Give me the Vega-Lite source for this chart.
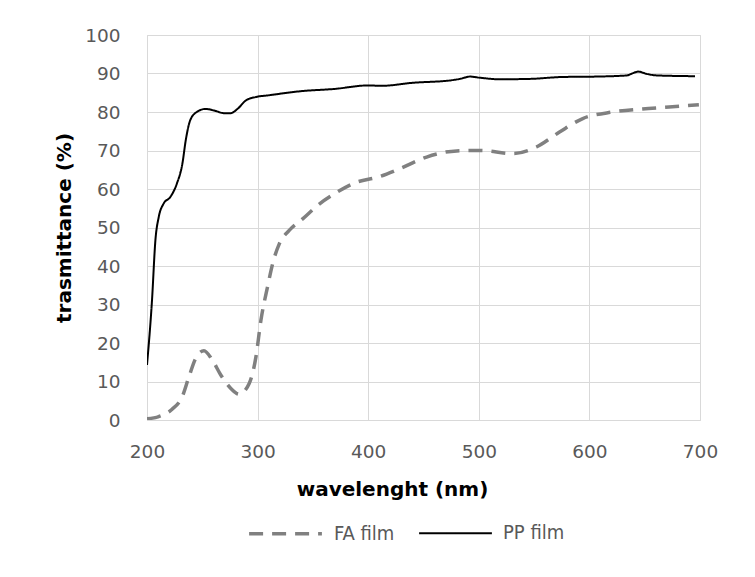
{
  "$schema": "https://vega.github.io/schema/vega-lite/v6.json",
  "width": 553,
  "height": 385,
  "autosize": {"type": "none"},
  "padding": {"left": 147, "top": 35, "right": 55, "bottom": 157},
  "background": "white",
  "config": {
    "view": {"stroke": "#d9d9d9", "strokeWidth": 1},
    "axis": {
      "gridColor": "#d9d9d9",
      "gridWidth": 1,
      "domain": false,
      "ticks": false,
      "labelFlush": false,
      "labelFont": "DejaVu Sans",
      "labelFontSize": 18.5,
      "labelColor": "#595959",
      "titleFont": "DejaVu Sans",
      "titleFontWeight": "bold",
      "titleFontSize": 20,
      "titleColor": "#000000"
    }
  },
  "data": {
    "values": [
      {"series": "PP film", "wl": 200, "t": 14.3},
      {"series": "PP film", "wl": 204.5, "t": 31},
      {"series": "PP film", "wl": 207.6, "t": 46.7},
      {"series": "PP film", "wl": 210.6, "t": 52.7},
      {"series": "PP film", "wl": 215, "t": 56.2},
      {"series": "PP film", "wl": 221, "t": 57.9},
      {"series": "PP film", "wl": 227, "t": 61.4},
      {"series": "PP film", "wl": 232, "t": 66.6},
      {"series": "PP film", "wl": 235, "t": 72.6},
      {"series": "PP film", "wl": 239, "t": 77.8},
      {"series": "PP film", "wl": 245, "t": 80},
      {"series": "PP film", "wl": 253, "t": 80.8},
      {"series": "PP film", "wl": 260.6, "t": 80.4},
      {"series": "PP film", "wl": 269.7, "t": 79.7},
      {"series": "PP film", "wl": 275.8, "t": 79.7},
      {"series": "PP film", "wl": 281.8, "t": 80.8},
      {"series": "PP film", "wl": 289.4, "t": 83},
      {"series": "PP film", "wl": 298.5, "t": 83.9},
      {"series": "PP film", "wl": 309, "t": 84.3},
      {"series": "PP film", "wl": 339, "t": 85.4},
      {"series": "PP film", "wl": 369.7, "t": 86},
      {"series": "PP film", "wl": 400, "t": 86.9},
      {"series": "PP film", "wl": 412, "t": 86.8},
      {"series": "PP film", "wl": 440.8, "t": 87.6},
      {"series": "PP film", "wl": 474, "t": 88.2},
      {"series": "PP film", "wl": 483, "t": 88.6},
      {"series": "PP film", "wl": 492, "t": 89.2},
      {"series": "PP film", "wl": 501, "t": 88.9},
      {"series": "PP film", "wl": 519, "t": 88.5},
      {"series": "PP film", "wl": 546, "t": 88.6},
      {"series": "PP film", "wl": 576, "t": 89.1},
      {"series": "PP film", "wl": 606.6, "t": 89.2},
      {"series": "PP film", "wl": 633.7, "t": 89.5},
      {"series": "PP film", "wl": 639.5, "t": 90.1},
      {"series": "PP film", "wl": 644, "t": 90.5},
      {"series": "PP film", "wl": 651.8, "t": 89.9},
      {"series": "PP film", "wl": 660.8, "t": 89.5},
      {"series": "PP film", "wl": 695.5, "t": 89.3},
      {"series": "FA film", "wl": 200, "t": 0.3},
      {"series": "FA film", "wl": 210.6, "t": 0.9},
      {"series": "FA film", "wl": 222.7, "t": 2.8},
      {"series": "FA film", "wl": 231.8, "t": 6},
      {"series": "FA film", "wl": 237.9, "t": 11.2},
      {"series": "FA film", "wl": 244, "t": 16},
      {"series": "FA film", "wl": 251.5, "t": 18},
      {"series": "FA film", "wl": 259, "t": 15.6},
      {"series": "FA film", "wl": 266.7, "t": 11.7},
      {"series": "FA film", "wl": 275.8, "t": 8.2},
      {"series": "FA film", "wl": 283.3, "t": 6.7},
      {"series": "FA film", "wl": 292.4, "t": 9.5},
      {"series": "FA film", "wl": 298.5, "t": 16.4},
      {"series": "FA film", "wl": 303, "t": 25.9},
      {"series": "FA film", "wl": 309, "t": 34.6},
      {"series": "FA film", "wl": 313.6, "t": 40.6},
      {"series": "FA film", "wl": 319.7, "t": 45.8},
      {"series": "FA film", "wl": 328.8, "t": 49.3},
      {"series": "FA film", "wl": 341, "t": 52.3},
      {"series": "FA film", "wl": 354.5, "t": 55.8},
      {"series": "FA film", "wl": 369.7, "t": 58.8},
      {"series": "FA film", "wl": 387.9, "t": 61.6},
      {"series": "FA film", "wl": 410, "t": 63.2},
      {"series": "FA film", "wl": 428.7, "t": 65.3},
      {"series": "FA film", "wl": 452.8, "t": 68.3},
      {"series": "FA film", "wl": 480, "t": 69.9},
      {"series": "FA film", "wl": 501, "t": 70},
      {"series": "FA film", "wl": 531, "t": 69.2},
      {"series": "FA film", "wl": 552, "t": 70.9},
      {"series": "FA film", "wl": 573, "t": 74.8},
      {"series": "FA film", "wl": 594, "t": 78.3},
      {"series": "FA film", "wl": 621, "t": 80},
      {"series": "FA film", "wl": 648, "t": 80.8},
      {"series": "FA film", "wl": 672, "t": 81.3},
      {"series": "FA film", "wl": 699, "t": 81.9}
    ]
  },
  "mark": {"type": "line", "interpolate": "monotone", "clip": true},
  "encoding": {
    "x": {
      "field": "wl", "type": "quantitative",
      "scale": {"domain": [200, 700], "nice": false, "zero": false},
      "axis": {"values": [200, 300, 400, 500, 600, 700], "title": "wavelenght (nm)", "labelPadding": 22, "titlePadding": 19, "titleX": 245, "titleAnchor": "middle", "titleAlign": "center"}
    },
    "y": {
      "field": "t", "type": "quantitative",
      "scale": {"domain": [0, 100], "nice": false},
      "axis": {"values": [0, 10, 20, 30, 40, 50, 60, 70, 80, 90, 100], "title": "trasmittance (%)", "labelPadding": 27, "titlePadding": 10}
    },
    "color": {
      "field": "series", "type": "nominal",
      "scale": {"domain": ["FA film", "PP film"], "range": ["#808080", "#000000"]},
      "legend": {
        "title": null, "orient": "none", "direction": "horizontal",
        "legendX": 100, "legendY": 460,
        "symbolType": "stroke", "symbolSize": 5300, "symbolStrokeWidth": 3,
        "labelFont": "DejaVu Sans Condensed", "labelFontSize": 20, "labelColor": "#595959",
        "labelOffset": 10, "columnPadding": 20
      }
    },
    "strokeDash": {
      "field": "series", "type": "nominal",
      "scale": {"domain": ["FA film", "PP film"], "range": [[14, 9], [1, 0]]},
      "legend": null
    },
    "strokeWidth": {
      "field": "series", "type": "nominal",
      "scale": {"domain": ["FA film", "PP film"], "range": [3.5, 2]},
      "legend": null
    }
  }
}
